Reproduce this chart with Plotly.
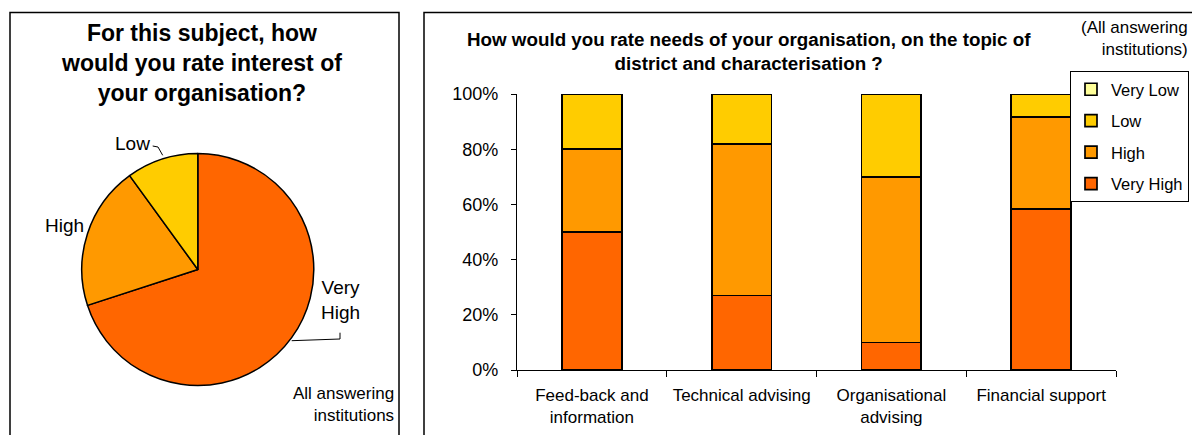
import plotly.graph_objects as go

W, H = 1192, 435

# ---- data ----
pie_labels = ["Very High", "High", "Low"]
pie_values = [70, 20, 10]

categories = ["Feed-back and<br>information", "Technical advising",
              "Organisational<br>advising", "Financial support"]
very_high = [50, 27, 10, 58.4]
high = [30, 55, 60, 33.2]
low = [20, 18, 30, 8.4]
very_low = [0, 0, 0, 0]

series_names = ["Very High", "High", "Low", "Very Low"]
series_vals = [very_high, high, low, very_low]
legend_ranks = {"Very Low": 1, "Low": 2, "High": 3, "Very High": 4}
colors = {"Very High": "#FF6600", "High": "#FF9900", "Low": "#FFCC00", "Very Low": "#FFFF99"}
pie_colors = [colors[n] for n in pie_labels]

y_ticks = [0, 20, 40, 60, 80, 100]

FONT = "Liberation Sans, Arial, sans-serif"

def px(x):
    return x / W

def py(y):
    return 1 - y / H

fig = go.Figure()

# ---- pie ----
cx, cy, r = 197.8, 269.5, 116
fig.add_trace(go.Pie(
    labels=pie_labels, values=pie_values, sort=False, direction="clockwise",
    rotation=0, textinfo="none", hoverinfo="label+percent",
    marker=dict(colors=pie_colors, line=dict(color="black", width=1.5)),
    domain=dict(x=[px(cx - r), px(cx + r)], y=[py(cy + r), py(cy - r)]),
    showlegend=False,
))

# ---- stacked bars ----
for name, vals in zip(series_names, series_vals):
    fig.add_trace(go.Bar(
        x=categories, y=vals, name=name, legendgroup=name,
        legendrank=legend_ranks[name],
        marker=dict(color=colors[name], line=dict(color="black", width=1.7)),
        width=0.4,
    ))

fig.update_layout(
    width=W, height=H,
    margin=dict(l=0, r=0, t=0, b=0, autoexpand=False),
    paper_bgcolor="white", plot_bgcolor="white",
    barmode="stack",
    font=dict(family=FONT, size=17, color="black"),
    xaxis=dict(domain=[px(517), px(1116)], showgrid=False, showline=True,
               linecolor="black", linewidth=1.2, ticks="outside", ticklen=6,
               tickcolor="black", tickson="boundaries", tickfont=dict(size=17),
               ticklabelstandoff=9, automargin=False, fixedrange=True),
    yaxis=dict(domain=[py(370), py(94)], range=[0, 100], tickvals=y_ticks,
               ticktext=[f"{v}%" for v in y_ticks], showgrid=False,
               showline=True, linecolor="black", linewidth=1.2,
               ticks="outside", ticklen=5, tickcolor="black",
               tickfont=dict(size=18), zeroline=False, ticklabelstandoff=9,
               automargin=False, fixedrange=True),
    legend=dict(x=px(1189), y=py(71), xanchor="right", yanchor="top",
                traceorder="grouped", tracegroupgap=7, itemwidth=30,
                bordercolor="black", borderwidth=1, bgcolor="white",
                font=dict(size=16.5)),
)

# ---- panel borders ----
fig.add_shape(type="rect", xref="paper", yref="paper",
              x0=px(10), x1=px(399), y0=py(460), y1=py(12.5),
              line=dict(color="black", width=1.5), layer="below")
fig.add_shape(type="rect", xref="paper", yref="paper",
              x0=px(424), x1=px(1230), y0=py(460), y1=py(12.5),
              line=dict(color="black", width=1.5), layer="below")

# ---- pie leader lines ----
fig.add_shape(type="path", xref="paper", yref="paper",
              path=f"M {px(152.7)} {py(146)} L {px(158)} {py(147)} L {px(162.7)} {py(155.3)}",
              line=dict(color="black", width=1))
fig.add_shape(type="path", xref="paper", yref="paper",
              path=f"M {px(291.7)} {py(340.7)} L {px(340)} {py(339)} L {px(340)} {py(332.7)}",
              line=dict(color="black", width=1))

ann = []
ann.append(dict(text="<b>For this subject, how<br>would you rate interest of<br>your organisation?</b>",
                x=px(201), y=py(63), xanchor="center", yanchor="middle",
                font=dict(size=23), align="center"))
ann.append(dict(text="Low", x=px(132), y=py(143), xanchor="center", yanchor="middle",
                font=dict(size=19)))
ann.append(dict(text="High", x=px(64), y=py(225), xanchor="center", yanchor="middle",
                font=dict(size=19)))
ann.append(dict(text="Very<br>High", x=px(340), y=py(300), xanchor="center", yanchor="middle",
                font=dict(size=19), align="center"))
ann.append(dict(text="All answering<br>institutions", x=px(396), y=py(404),
                xanchor="right", yanchor="middle", font=dict(size=17), align="right"))
ann.append(dict(text="<b>How would you rate needs of your organisation, on the topic of<br>district and characterisation ?</b>",
                x=px(749), y=py(51), xanchor="center", yanchor="middle",
                font=dict(size=18.8), align="center"))
ann.append(dict(text="(All answering<br>institutions)", x=px(1190), y=py(38),
                xanchor="right", yanchor="middle", font=dict(size=17), align="right"))
for a in ann:
    a.update(xref="paper", yref="paper", showarrow=False)
fig.update_layout(annotations=ann)

fig.write_html(
    "out.html",
    config={"displayModeBar": False},
    post_script="document.body.style.margin='0';document.body.style.overflow='hidden';",
)
